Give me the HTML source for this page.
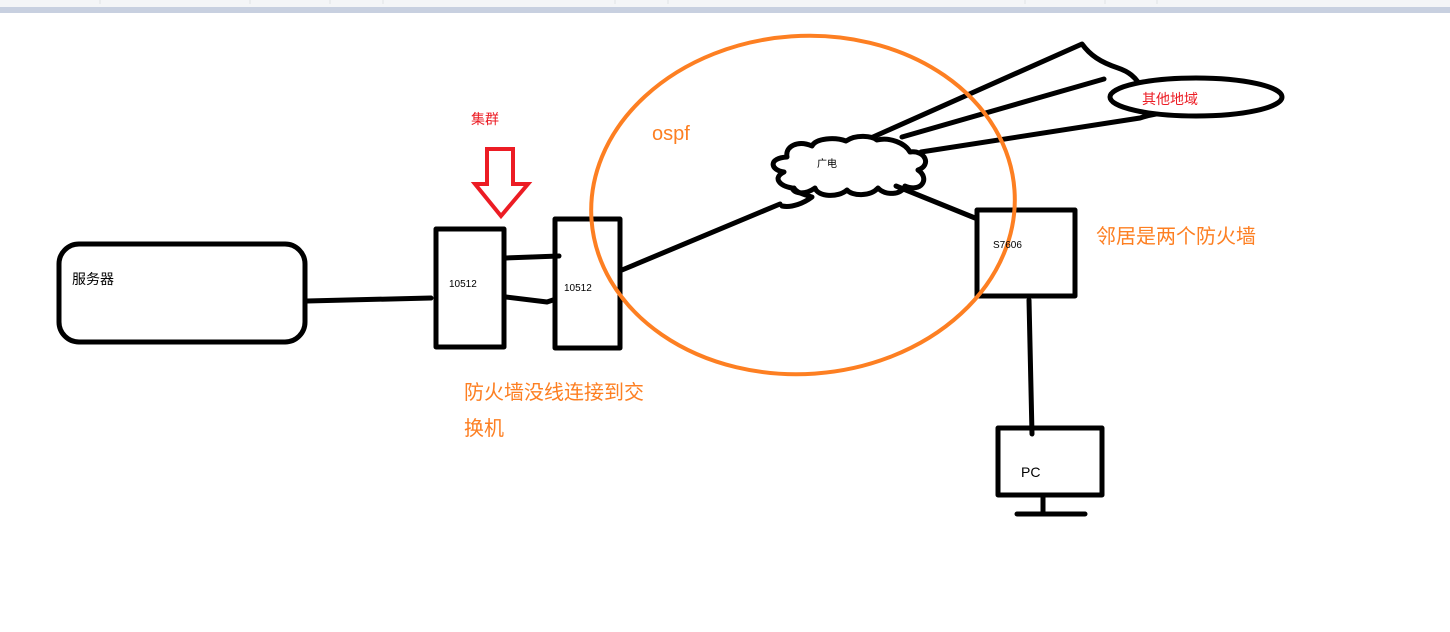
<!DOCTYPE html>
<html><head><meta charset="utf-8"><style>
body{margin:0;width:1450px;height:632px;overflow:hidden;background:#fff}
svg{display:block}
text{font-family:"Liberation Sans","Noto Sans CJK SC",sans-serif}
</style></head><body>
<svg width="1450" height="632" viewBox="0 0 1450 632">
<rect x="0" y="0" width="1450" height="7" fill="#f4f5f7"/>
<rect x="0" y="7" width="1450" height="6" fill="#c8d0e0"/>
<g stroke="#e0e2e6" stroke-width="1"><line x1="100" y1="0" x2="100" y2="4"/><line x1="250" y1="0" x2="250" y2="4"/><line x1="330" y1="0" x2="330" y2="4"/><line x1="383" y1="0" x2="383" y2="4"/><line x1="615" y1="0" x2="615" y2="4"/><line x1="668" y1="0" x2="668" y2="4"/><line x1="1025" y1="0" x2="1025" y2="4"/><line x1="1105" y1="0" x2="1105" y2="4"/><line x1="1157" y1="0" x2="1157" y2="4"/></g>

<g fill="none" stroke="#000" stroke-width="5" stroke-linecap="round" stroke-linejoin="round">
<rect x="59" y="244" width="246" height="98" rx="20"/>
<rect x="436" y="229" width="68" height="118"/>
<rect x="555" y="219" width="65" height="129"/>
<rect x="977" y="210" width="98" height="86"/>
<rect x="998" y="428" width="104" height="67"/>
<line x1="1043" y1="495" x2="1043" y2="514"/>
<line x1="1017" y1="514" x2="1085" y2="514"/>
<line x1="1029" y1="300" x2="1032" y2="434"/>
<line x1="307" y1="301" x2="431" y2="298"/>
<line x1="506" y1="258" x2="559" y2="256"/>
<polyline points="506,297 547,302 553,300"/>
<line x1="622" y1="270" x2="780" y2="204"/>
<path d="M782,206 C792,208 804,203 812,197 C802,194 796,192 794,188"/>
<line x1="896" y1="186" x2="975" y2="218"/>
<path d="M873,137 L1082,44 C1090,55 1100,62 1118,68 C1130,72 1135,78 1138,82"/>
<line x1="902" y1="137" x2="1104" y2="79"/>
<path d="M921,152 L1140,118 C1146,116 1150,115 1156,114"/>
<ellipse cx="1196" cy="97" rx="86" ry="19"/>
<path d="M792,188 C780,186 772,178 784,172 C770,170 768,158 787,157 C785,146 798,140 812,146 C816,138 835,137 846,141 C856,134 872,136 877,140 C890,137 905,143 910,152 C925,150 932,165 918,170 C930,178 922,193 905,186 C902,195 885,196 878,188 C870,197 852,196 847,190 C838,198 818,197 815,188 C805,195 795,194 792,188"/>
</g>
<ellipse cx="803" cy="205" rx="212" ry="169" fill="none" stroke="#fd7f22" stroke-width="4" transform="rotate(-4 803 205)"/>
<path d="M487,149 H513 V184 H528 L501,216 L475,184 H487 Z" fill="none" stroke="#ec1c24" stroke-width="4" stroke-linejoin="miter"/>

<text x="72" y="284" font-size="14" fill="#000">服务器</text>
<text x="449" y="287" font-size="10" fill="#000">10512</text>
<text x="564" y="291" font-size="10" fill="#000">10512</text>
<text x="993" y="248" font-size="10" fill="#000">S7606</text>
<text x="1021" y="477" font-size="14" fill="#000">PC</text>
<text x="817" y="167" font-size="10" fill="#000">广电</text>
<text x="471" y="124" font-size="14" fill="#ec1c24">集群</text>
<text x="1142" y="104" font-size="14" fill="#ec1c24">其他地域</text>
<text x="652" y="140" font-size="20" fill="#fd7f22">ospf</text>
<text x="1096" y="243" font-size="20" fill="#fd7f22">邻居是两个防火墙</text>
<text x="464" y="399" font-size="20" fill="#fd7f22">防火墙没线连接到交</text>
<text x="464" y="435" font-size="20" fill="#fd7f22">换机</text>
</svg>
</body></html>
